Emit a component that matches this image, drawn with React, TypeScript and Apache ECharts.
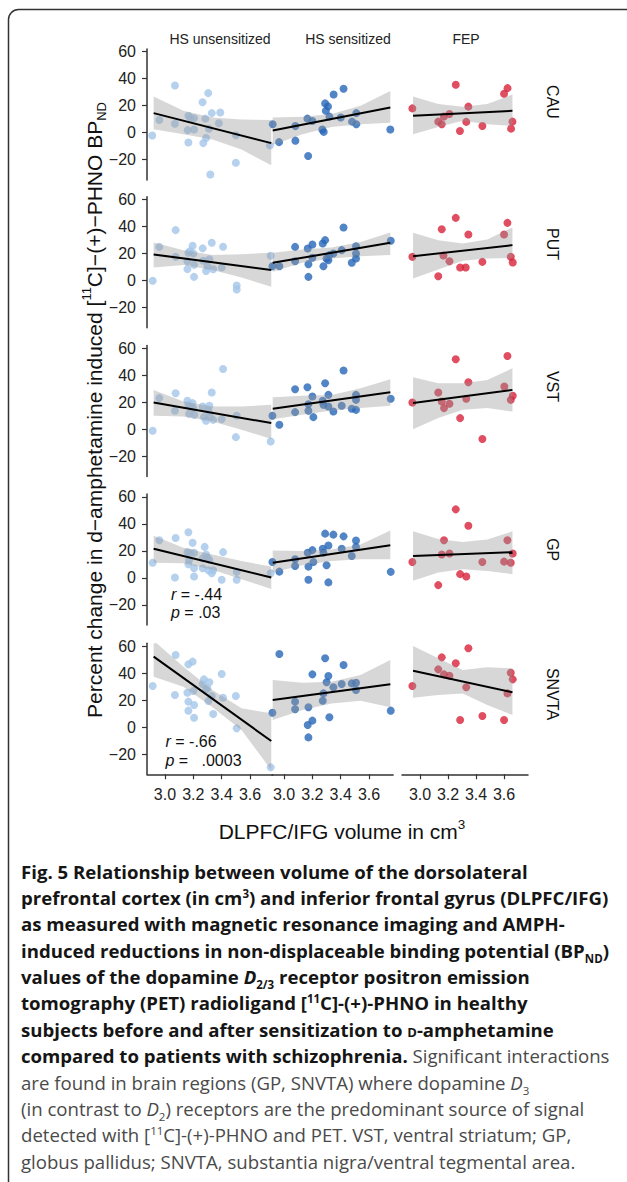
import React, { useEffect, useRef } from "react";
import * as echarts from "echarts";

// ---------- data ----------
const regions = ["CAU", "PUT", "VST", "GP", "SNVTA"];
const groups = ["HS unsensitized", "HS sensitized", "FEP"];
const groupColors = ["#a3c6ea", "#2767b8", "#d7223a"];
const yTickValues = [-20, 0, 20, 40, 60];
const xTickValues = [3.0, 3.2, 3.4, 3.6];
const lineXHS = [2.92, 3.75];
const lineXFEP = [2.95, 3.66];
const bandXHS = [2.92, 3.13, 3.335, 3.54, 3.75];
const bandXFEP = [2.95, 3.13, 3.305, 3.48, 3.66];

// CAU
const cauUnsensPoints = [[2.91,-2.1],[2.96,9.4],[3.07,35],[3.07,6.6],[3.165,12.5],[3.18,11],[3.205,10.7],[3.16,1.9],[3.205,2.4],[3.165,-7.2],[3.265,22.5],[3.305,29.3],[3.285,10.4],[3.33,14.5],[3.31,2.9],[3.29,-3.9],[3.27,-7.7],[3.39,15],[3.38,7],[3.32,-31],[3.5,-1.9],[3.5,-22.3],[3.74,-9.4]];
const cauUnsensLine = [14.5, -7.7];
const cauUnsensUpper = [26.8, 16.3, 11.2, 9.7, 9.5];
const cauUnsensLower = [2.5, -1.2, -5, -12.5, -24.2];
const cauSensPoints = [[2.92,6.2],[2.965,-7],[3.08,4.9],[3.08,-5.9],[3.165,10.4],[3.17,-17.2],[3.2,8.7],[3.27,2.4],[3.28,0.6],[3.29,21.7],[3.31,19.5],[3.295,16.2],[3.32,11.9],[3.35,28.3],[3.42,32.6],[3.4,11.2],[3.48,8.2],[3.51,6.2],[3.51,14.5],[3.75,2.4]];
const cauSensLine = [1.6, 18.7];
const cauSensUpper = [11.2, 11.8, 13.8, 20, 30.8];
const cauSensLower = [-9.2, -1.2, 4.3, 6.3, 7.3];
const cauFepPoints = [[2.945,18],[3.255,35.5],[3.345,19.3],[3.21,13.8],[3.17,12],[3.13,8.2],[3.155,6.3],[3.33,8],[3.285,1.3],[3.445,5],[3.625,33],[3.6,28.8],[3.66,8.2],[3.65,3]];
const cauFepLine = [12.5, 16.2];
const cauFepUpper = [26.8, 21.3, 19.3, 21.3, 28.3];
const cauFepLower = [-1.2, 4.3, 8.8, 6.3, 5];

// PUT
const putUnsensPoints = [[2.913,-0.2],[2.96,24.9],[3.075,37.3],[3.075,17.5],[3.158,14.3],[3.165,20.5],[3.176,21.7],[3.195,25.7],[3.2,20],[3.158,8.4],[3.205,11.6],[3.205,2.7],[3.266,23.8],[3.27,14.6],[3.3,10.6],[3.29,7],[3.313,15.8],[3.33,28],[3.34,8.3],[3.4,9.6],[3.41,25],[3.506,-3.7],[3.506,-6.7],[3.746,18.3]];
const putUnsensLine = [19.3, 7.7];
const putUnsensUpper = [28.1, 22.5, 18.8, 19.5, 20.5];
const putUnsensLower = [9.6, 11.4, 7.7, 2.2, -4.7];
const putSensPoints = [[2.918,10.6],[2.967,10.6],[3.078,24.9],[3.078,14.3],[3.167,23.7],[3.172,12.1],[3.172,2.7],[3.2,26.7],[3.2,16.8],[3.273,27.4],[3.29,29.9],[3.278,10.6],[3.3,16.3],[3.313,15],[3.32,18.8],[3.348,20],[3.407,22.5],[3.42,39.3],[3.478,13.1],[3.508,25.4],[3.508,20],[3.508,16.3],[3.753,29.4]];
const putSensLine = [13.1, 27.9];
const putSensUpper = [20.5, 23, 24.4, 28.6, 35.6];
const putSensLower = [6.4, 13.1, 16.3, 18, 18.8];
const putFepPoints = [[2.945,17.5],[3.255,46.4],[3.155,38],[3.345,34.1],[3.624,42.7],[3.6,34.1],[3.167,18.5],[3.21,14.3],[3.286,9.6],[3.326,9.6],[3.13,3.2],[3.445,13.8],[3.648,17.5],[3.662,13.3]];
const putFepLine = [18, 26.2];
const putFepUpper = [35.3, 29.9, 27.4, 30.4, 39.3];
const putFepLower = [1.5, 8.1, 14.6, 16.3, 16.8];

// VST
const vstUnsensPoints = [[2.913,-1.1],[2.96,23.1],[3.075,26.7],[3.07,13.7],[3.158,21.1],[3.165,18.1],[3.17,11.5],[3.195,19.4],[3.2,15.7],[3.207,10.7],[3.18,16.9],[3.266,16.9],[3.275,9],[3.29,6.3],[3.306,13.7],[3.313,17.4],[3.318,9.5],[3.33,27.2],[3.34,7],[3.41,44.7],[3.4,7.5],[3.506,10],[3.5,-5.8],[3.746,-9]];
const vstUnsensLine = [19.9, 4.6];
const vstUnsensUpper = [29.2, 20.6, 16.9, 16.9, 18.1];
const vstUnsensLower = [10, 9.5, 5.8, -0.3, -7.2];
const vstSensPoints = [[2.918,10],[2.967,3.4],[3.078,29.7],[3.078,12.7],[3.165,31.2],[3.172,18.6],[3.172,13.7],[3.2,24.3],[3.207,9],[3.273,21.1],[3.29,34.1],[3.278,18.1],[3.313,25.5],[3.313,16.9],[3.348,13.2],[3.407,17.4],[3.42,43.5],[3.478,15.2],[3.508,25.5],[3.508,21.8],[3.508,14.4],[3.753,22.6]];
const vstSensLine = [15.2, 27.5];
const vstSensUpper = [23.8, 24.8, 25.5, 30.4, 37.1];
const vstSensLower = [7.5, 10.7, 13.9, 15.7, 17.4];
const vstFepPoints = [[2.945,19.9],[3.255,51.9],[3.624,54.3],[3.345,34.9],[3.13,27.2],[3.155,20.6],[3.171,15.7],[3.21,18.9],[3.33,22.6],[3.602,31.7],[3.662,24.8],[3.648,21.8],[3.286,8.3],[3.445,-7.2]];
const vstFepLine = [19.4, 29.2];
const vstFepUpper = [38.6, 34.1, 34.1, 36.6, 45.2];
const vstFepLower = [0.1, 8.3, 14.4, 15.7, 13.2];

// GP
const gpUnsensPoints = [[2.913,11.2],[2.96,27.8],[3.075,29.5],[3.07,0.2],[3.165,33.7],[3.195,25.9],[3.158,19],[3.176,18.5],[3.205,18.5],[3.165,10],[3.17,13.2],[3.205,7.1],[3.205,1],[3.266,14.4],[3.28,22.9],[3.29,17.3],[3.3,14.9],[3.313,13.2],[3.306,5.6],[3.33,3.4],[3.34,5.6],[3.266,7.1],[3.4,-1.5],[3.41,19],[3.506,4.4],[3.506,-1.5],[3.746,3.4]];
const gpUnsensLine = [21.5, 0.2];
const gpUnsensUpper = [31.2, 22.2, 17.3, 12.4, 8.3];
const gpUnsensLower = [11.2, 10.7, 5.9, -1, -8.3];
const gpSensPoints = [[2.918,11.7],[2.967,4.6],[3.078,13.7],[3.078,8.8],[3.167,18.5],[3.172,8.3],[3.172,-1.5],[3.2,20.5],[3.207,11.7],[3.273,21.5],[3.278,18.5],[3.29,32.7],[3.3,9.3],[3.313,23.9],[3.313,-3.4],[3.348,32],[3.407,21.5],[3.42,30.7],[3.478,16.1],[3.508,27.6],[3.508,22.9],[3.753,4.4]];
const gpSensLine = [11.2, 24.1];
const gpSensUpper = [20.2, 19.8, 21, 24.6, 35.1];
const gpSensLower = [3.9, 9.3, 12.4, 13.7, 13.7];
const gpFepPoints = [[2.945,11.7],[3.255,50.7],[3.345,38.5],[3.171,27.8],[3.155,17.3],[3.21,18],[3.13,-5.4],[3.286,2.7],[3.33,1],[3.445,11.7],[3.624,27.8],[3.662,18],[3.6,12],[3.648,11.2]];
const gpFepLine = [16.1, 19];
const gpFepUpper = [34.4, 28.8, 26.6, 28.3, 34.4];
const gpFepLower = [-2.2, 3.9, 6.3, 5.1, 2.7];

// SNVTA
const snvtaUnsensPoints = [[2.913,30.4],[3.075,53.3],[3.07,23.7],[3.165,46.4],[3.195,48.4],[3.158,25.4],[3.165,18.8],[3.165,12.1],[3.2,26.7],[3.205,16.3],[3.205,6.9],[3.266,31.9],[3.275,35.3],[3.29,27.9],[3.3,28.6],[3.313,33.1],[3.306,19.3],[3.33,23],[3.34,9.6],[3.4,39.3],[3.41,21.7],[3.5,23],[3.506,-1],[3.746,-29.9]];
const snvtaUnsensLine = [52.1, -10.4];
const snvtaUnsensUpper = [64, 44.7, 27.4, 13.8, 10.1];
const snvtaUnsensLower = [37.3, 29.9, 14.6, -2.2, -31.9];
const snvtaSensPoints = [[2.918,10.6],[2.967,54.1],[3.078,18.8],[3.078,13.1],[3.167,1.5],[3.172,14.6],[3.172,-7.7],[3.2,39],[3.2,4.7],[3.273,19.5],[3.278,24.9],[3.29,50.9],[3.3,33.1],[3.313,37.8],[3.32,7.2],[3.348,29.4],[3.407,31.9],[3.42,45.9],[3.478,32.3],[3.508,32.8],[3.508,27.4],[3.753,12.1]];
const snvtaSensLine = [20, 31.6];
const snvtaSensUpper = [34.8, 32.8, 33.6, 38.5, 49.6];
const snvtaSensLower = [5.2, 12.6, 17.5, 19.5, 14.6];
const snvtaFepPoints = [[2.945,30.4],[3.345,58.3],[3.155,51.6],[3.255,47.2],[3.13,42.7],[3.171,39],[3.21,38],[3.33,29.4],[3.648,40.2],[3.662,35.3],[3.624,24.9],[3.286,5.2],[3.445,8.1],[3.6,5.2]];
const snvtaFepLine = [41.7, 25.7];
const snvtaFepUpper = [60, 50.9, 42.2, 44.2, 43.5];
const snvtaFepLower = [21.7, 23.7, 24.9, 16.3, 8.9];

const statsGP = ["-.44", ".03"];
const statsSNVTA = ["-.66", ".0003"];

// ---------- panel table ----------
const panelTable = [
  [
    [cauUnsensPoints, cauUnsensLine, cauUnsensUpper, cauUnsensLower],
    [cauSensPoints, cauSensLine, cauSensUpper, cauSensLower],
    [cauFepPoints, cauFepLine, cauFepUpper, cauFepLower],
  ],
  [
    [putUnsensPoints, putUnsensLine, putUnsensUpper, putUnsensLower],
    [putSensPoints, putSensLine, putSensUpper, putSensLower],
    [putFepPoints, putFepLine, putFepUpper, putFepLower],
  ],
  [
    [vstUnsensPoints, vstUnsensLine, vstUnsensUpper, vstUnsensLower],
    [vstSensPoints, vstSensLine, vstSensUpper, vstSensLower],
    [vstFepPoints, vstFepLine, vstFepUpper, vstFepLower],
  ],
  [
    [gpUnsensPoints, gpUnsensLine, gpUnsensUpper, gpUnsensLower],
    [gpSensPoints, gpSensLine, gpSensUpper, gpSensLower],
    [gpFepPoints, gpFepLine, gpFepUpper, gpFepLower],
  ],
  [
    [snvtaUnsensPoints, snvtaUnsensLine, snvtaUnsensUpper, snvtaUnsensLower],
    [snvtaSensPoints, snvtaSensLine, snvtaSensUpper, snvtaSensLower],
    [snvtaFepPoints, snvtaFepLine, snvtaFepUpper, snvtaFepLower],
  ],
];

// ---------- layout ----------
const W = 627;
const H = 1182;
const FONT = '"Liberation Sans", Arial, Helvetica, sans-serif';
const Y60 = [51.7, 199.5, 348.3, 496.8, 646];
const PXU = 1.35;
const Y_MAX = 62;
const Y_MIN = -35;
const colLeft = [147, 272, 402];
const colXMin = [2.873, 2.915, 2.871];
const colXMax = [3.76, 3.77, 3.771];
const colPx = [141.7, 141.7, 140];
const stripY = [102, 244, 386.5, 549.7, 694];
const headerX = [220, 348, 466];

function buildOption() {
  const grid: any[] = [];
  const xAxis: any[] = [];
  const yAxis: any[] = [];
  const series: any[] = [];
  const axisColor = "#333";
  for (let r = 0; r < 5; r++) {
    for (let c = 0; c < 3; c++) {
      const i = r * 3 + c;
      grid.push({
        left: colLeft[c],
        top: Y60[r] - (Y_MAX - 60) * PXU,
        width: (colXMax[c] - colXMin[c]) * colPx[c],
        height: (Y_MAX - Y_MIN) * PXU,
      });
      xAxis.push({
        type: "value",
        gridIndex: i,
        min: colXMin[c],
        max: colXMax[c],
        show: r === 4,
        axisLine: { show: true, onZero: false, lineStyle: { color: axisColor, width: 1.5 } },
        axisTick: { show: true, length: 5, customValues: xTickValues, lineStyle: { color: axisColor, width: 1.2 } },
        axisLabel: {
          show: true,
          customValues: xTickValues,
          interval: 0,
          formatter: (v: number) => v.toFixed(1),
          fontSize: 16,
          color: "#222",
          margin: 12,
          fontFamily: FONT,
        },
        splitLine: { show: false },
      });
      yAxis.push({
        type: "value",
        gridIndex: i,
        min: Y_MIN,
        max: Y_MAX,
        show: c === 0,
        axisLine: { show: true, onZero: false, lineStyle: { color: axisColor, width: 1.5 } },
        axisTick: { show: true, length: 5, customValues: yTickValues, lineStyle: { color: axisColor, width: 1.2 } },
        axisLabel: {
          show: true,
          customValues: yTickValues,
          formatter: (v: number) => (v < 0 ? "\u2212" + Math.abs(v) : String(v)),
          fontSize: 16,
          color: "#222",
          margin: 11,
          fontFamily: FONT,
        },
        splitLine: { show: false },
      });
      const [pts, line, upper, lower] = panelTable[r][c] as any;
      const lx = c === 2 ? lineXFEP : lineXHS;
      const bx = c === 2 ? bandXFEP : bandXHS;
      series.push({
        type: "scatter",
        name: `${regions[r]} ${groups[c]}`,
        xAxisIndex: i,
        yAxisIndex: i,
        data: pts,
        symbol: "circle",
        symbolSize: 8,
        itemStyle: { color: groupColors[c] },
        z: 2,
        silent: true,
      });
      series.push({
        type: "custom",
        xAxisIndex: i,
        yAxisIndex: i,
        clip: true,
        silent: true,
        z: 3,
        data: [[bx[0], upper[0]]],
        renderItem: (params: any, api: any) => {
          const poly: number[][] = [];
          for (let k = 0; k < bx.length; k++) poly.push(api.coord([bx[k], upper[k]]));
          for (let k = bx.length - 1; k >= 0; k--) poly.push(api.coord([bx[k], lower[k]]));
          return {
            type: "polygon",
            shape: { points: poly },
            style: { fill: "rgba(150,150,150,0.38)" },
          };
        },
      });
      series.push({
        type: "line",
        xAxisIndex: i,
        yAxisIndex: i,
        data: [
          [lx[0], line[0]],
          [lx[1], line[1]],
        ],
        symbol: "none",
        showSymbol: false,
        lineStyle: { color: "#000", width: 2 },
        z: 4,
        silent: true,
      });
    }
  }

  const textStyle = (text: string, size: number, extra: any = {}) => ({
    text,
    fontSize: size,
    fontFamily: FONT,
    fill: "#111",
    align: "center",
    verticalAlign: "middle",
    textAlign: "center",
    textVerticalAlign: "middle",
    ...extra,
  });

  const graphic: any[] = [
    {
      type: "rect",
      shape: { x: 8.5, y: 9.5, width: 720, height: 1300, r: 10 },
      style: { fill: "none", stroke: "#333", lineWidth: 1.5 },
      silent: true,
      z: -1,
    },
  ];
  groups.forEach((g, c) => {
    graphic.push({ type: "text", x: headerX[c], y: 38.5, style: textStyle(g, 14, { fill: "#222" }), silent: true });
  });
  regions.forEach((reg, r) => {
    graphic.push({
      type: "text",
      x: 552,
      y: stripY[r],
      rotation: -Math.PI / 2,
      style: textStyle(reg, 16),
      silent: true,
    });
  });
  const richBase = {
    n: { fontSize: 21, fontFamily: FONT, fill: "#111", lineHeight: 28, verticalAlign: "middle" },
    sup: { fontSize: 13, fontFamily: FONT, fill: "#111", lineHeight: 14, verticalAlign: "top" },
    sub: { fontSize: 13, fontFamily: FONT, fill: "#111", lineHeight: 14, verticalAlign: "bottom" },
  };
  graphic.push({
    type: "text",
    x: 94,
    y: 410,
    rotation: Math.PI / 2,
    style: {
      text: "{n|Percent change in d\u2212amphetamine induced [}{sup|11}{n|C]\u2212(+)\u2212PHNO BP}{sub|ND}",
      rich: richBase,
      align: "center",
      verticalAlign: "middle",
      textAlign: "center",
      textVerticalAlign: "middle",
    },
    silent: true,
  });
  graphic.push({
    type: "text",
    x: 342,
    y: 831,
    style: {
      text: "{n|DLPFC/IFG volume in cm}{sup|3}",
      rich: {
        n: { fontSize: 21, fontFamily: FONT, fill: "#111", lineHeight: 27, verticalAlign: "middle" },
        sup: { fontSize: 13.5, fontFamily: FONT, fill: "#111", lineHeight: 14, verticalAlign: "top" },
      },
      align: "center",
      verticalAlign: "middle",
      textAlign: "center",
      textVerticalAlign: "middle",
    },
    silent: true,
  });
  const statRich = {
    i: { fontSize: 16, fontFamily: FONT, fill: "#111", fontStyle: "italic" },
    n: { fontSize: 16, fontFamily: FONT, fill: "#111" },
  };
  const statText = (x: number, y: number, letter: string, val: string) => ({
    type: "text",
    x,
    y,
    style: {
      text: `{i|${letter}}{n| = ${val}}`,
      rich: statRich,
      align: "left",
      verticalAlign: "middle",
      textAlign: "left",
      textVerticalAlign: "middle",
    },
    silent: true,
  });
  graphic.push(statText(171, 594, "r", statsGP[0]));
  graphic.push(statText(171, 612.5, "p", statsGP[1]));
  graphic.push(statText(165.5, 741, "r", statsSNVTA[0]));
  graphic.push(statText(165.5, 760, "p", "\u00a0\u00a0" + statsSNVTA[1]));

  return {
    animation: false,
    backgroundColor: "#fff",
    grid,
    xAxis,
    yAxis,
    series,
    graphic,
  };
}

const capBold: React.CSSProperties = { fontWeight: 700, color: "#151515" };
const capReg: React.CSSProperties = { fontWeight: 400, color: "#4a4a4a" };
const supS: React.CSSProperties = { fontSize: "0.62em", verticalAlign: "super", lineHeight: 0 };
const subS: React.CSSProperties = { fontSize: "0.62em", verticalAlign: "sub", lineHeight: 0 };

const captionLines: React.ReactNode[] = [
  <span style={capBold}>Fig. 5 Relationship between volume of the dorsolateral</span>,
  <span style={capBold}>
    prefrontal cortex (in cm<span style={supS}>3</span>) and inferior frontal gyrus (DLPFC/IFG)
  </span>,
  <span style={capBold}>as measured with magnetic resonance imaging and AMPH-</span>,
  <span style={capBold}>
    induced reductions in non-displaceable binding potential (BP<span style={subS}>ND</span>)
  </span>,
  <span style={capBold}>
    values of the dopamine <i>D</i>
    <span style={subS}>2/3</span> receptor positron emission
  </span>,
  <span style={capBold}>
    tomography (PET) radioligand [<span style={supS}>11</span>C]-(+)-PHNO in healthy
  </span>,
  <span style={capBold}>
    subjects before and after sensitization to <span style={{ fontVariant: "small-caps" }}>d</span>-amphetamine
  </span>,
  <span>
    <span style={capBold}>compared to patients with schizophrenia.</span>
    <span style={capReg}> Significant interactions</span>
  </span>,
  <span style={capReg}>
    are found in brain regions (GP, SNVTA) where dopamine <i>D</i>
    <span style={subS}>3</span>
  </span>,
  <span style={capReg}>
    (in contrast to <i>D</i>
    <span style={subS}>2</span>) receptors are the predominant source of signal
  </span>,
  <span style={capReg}>
    detected with [<span style={supS}>11</span>C]-(+)-PHNO and PET. VST, ventral striatum; GP,
  </span>,
  <span style={capReg}>globus pallidus; SNVTA, substantia nigra/ventral tegmental area.</span>,
];

export default function App() {
  const ref = useRef<HTMLDivElement>(null);
  useEffect(() => {
    if (!ref.current) return;
    const chart = echarts.init(ref.current, null, { renderer: "svg" });
    chart.setOption(buildOption() as any);
    return () => chart.dispose();
  }, []);
  return (
    <div style={{ position: "absolute", left: 0, top: 0, width: W, height: H, background: "#fff", overflow: "hidden" }}>
      <div ref={ref} style={{ position: "absolute", left: 0, top: 0, width: W, height: H }} />
      <div
        style={{
          position: "absolute",
          left: 21,
          top: 858.5,
          fontFamily: '"Open Sans", "Noto Sans", sans-serif',
          fontSize: 18.6,
          lineHeight: "26.4px",
          whiteSpace: "nowrap",
        }}
      >
        {captionLines.map((l, k) => (
          <div key={k} style={{ height: 26.4 }}>
            {l}
          </div>
        ))}
      </div>
    </div>
  );
}
